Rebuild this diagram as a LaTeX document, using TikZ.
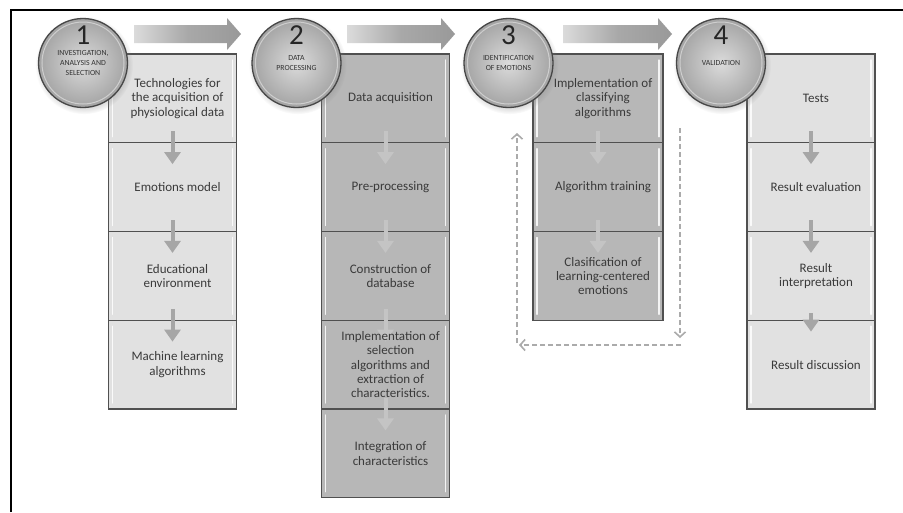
\documentclass[tikz,border=0pt]{standalone}
\usepackage{fontspec}
\setmainfont{Carlito}
\usetikzlibrary{arrows.meta,shadows}

\definecolor{lightcell}{HTML}{E1E1E1}
\definecolor{darkcell}{HTML}{B7B7B7}
\definecolor{cellborder}{HTML}{505050}
\definecolor{txt}{HTML}{3A3A3A}
\definecolor{arrowgray}{HTML}{A6A6A6}
\definecolor{arrowlight}{HTML}{C4C4C4}
\definecolor{loopgray}{HTML}{ABABAB}

\tikzset{
  cell/.style={draw=cellborder, line width=1.2pt, minimum width=128pt,
    minimum height=88.75pt, inner sep=0pt,
    path picture={
      \draw[white, line width=1.4pt, opacity=.85, line cap=round]
        ([xshift=4pt,yshift=-6pt]path picture bounding box.north west) --
        ([xshift=4pt,yshift=6pt]path picture bounding box.south west);
      \draw[white, line width=1.4pt, opacity=.85, line cap=round]
        ([xshift=-4pt,yshift=-6pt]path picture bounding box.north east) --
        ([xshift=-4pt,yshift=6pt]path picture bounding box.south east);
    }},
  lightbox/.style={cell, fill=lightcell},
  darkbox/.style={cell, fill=darkcell},
  celltext/.style={text=txt, font=\fontsize{13}{14.3}\selectfont, align=center, inner sep=0pt},
  stepcircle/.style={circle, minimum size=89pt, inner sep=0pt,
    inner color=black!14, outer color=black!36, draw=black!72, line width=1.3pt,
    circular drop shadow={shadow xshift=1pt, shadow yshift=-2pt, opacity=.3}},
  stepnum/.style={text=black!85, font=\fontsize{29}{29}\selectfont, inner sep=0pt},
  steplabel/.style={text=black!80, font=\fontsize{7.8}{9.6}\selectfont, align=center, inner sep=0pt},
  rowarrow/.style={draw=arrowgray, line width=4pt, -{Triangle[width=16pt,length=12pt]}},
  rowarrowlight/.style={draw=arrowlight, line width=4pt, -{Triangle[width=16pt,length=12pt]}},
  looparrow/.style={draw=loopgray, line width=1.6pt, dash pattern=on 5pt off 3pt,
    -{Straight Barb[length=5pt,width=11pt]}},
  bigarrow/.style={left color=black!14, right color=black!40, middle color=black!34},
}

\begin{document}
\begin{tikzpicture}[x=1pt,y=-1pt]
\useasboundingbox (0,0) rectangle (903,512);
\fill[white] (0,0) rectangle (903,512);
% frame
\draw[line width=2pt, black] (11,512) -- (11,10) -- (903,10);

% big arrows
\shade[bigarrow] (134,25) -- (227,25) -- (227,18) -- (241,34) -- (227,50) -- (227,43) -- (134,43) -- cycle;
\shade[bigarrow] (347,25) -- (441,25) -- (441,18) -- (455,34) -- (441,50) -- (441,43) -- (347,43) -- cycle;
\shade[bigarrow] (563,25) -- (658,25) -- (658,18) -- (672,34) -- (658,50) -- (658,43) -- (563,43) -- cycle;

% column 1
\node[lightbox] (a1) at (172.5,98.4) {};
\node[lightbox] (a2) at (172.5,187.1) {};
\node[lightbox] (a3) at (172.5,275.9) {};
\node[lightbox] (a4) at (172.5,364.6) {};
% column 2
\node[darkbox] (b1) at (385.5,98.4) {};
\node[darkbox] (b2) at (385.5,187.1) {};
\node[darkbox] (b3) at (385.5,275.9) {};
\node[darkbox] (b4) at (385.5,364.6) {};
\node[darkbox] (b5) at (385.5,453.4) {};
% column 3
\node[darkbox, minimum width=130pt] (c1) at (598,98.4) {};
\node[darkbox, minimum width=130pt] (c2) at (598,187.1) {};
\node[darkbox, minimum width=130pt] (c3) at (598,275.9) {};
% column 4
\node[lightbox] (d1) at (811,98.4) {};
\node[lightbox] (d2) at (811,187.1) {};
\node[lightbox] (d3) at (811,275.9) {};
\node[lightbox] (d4) at (811,364.6) {};

% row arrows
\draw[rowarrow] ([yshift=12pt]a1.south) -- ([yshift=-22pt]a2.north);
\draw[rowarrow] ([yshift=12pt]a2.south) -- ([yshift=-22pt]a3.north);
\draw[rowarrow] ([yshift=12pt]a3.south) -- ([yshift=-22pt]a4.north);
\draw[rowarrowlight] ([yshift=12pt]b1.south) -- ([yshift=-22pt]b2.north);
\draw[rowarrowlight] ([yshift=12pt]b2.south) -- ([yshift=-22pt]b3.north);
\draw[rowarrowlight] ([yshift=12pt]b3.south) -- ([yshift=-22pt]b4.north);
\draw[rowarrowlight] ([yshift=12pt]b4.south) -- ([yshift=-22pt]b5.north);
\draw[rowarrowlight] ([yshift=12pt]c1.south) -- ([yshift=-22pt]c2.north);
\draw[rowarrowlight] ([yshift=12pt]c2.south) -- ([yshift=-22pt]c3.north);
\draw[rowarrow] ([yshift=12pt]d1.south) -- ([yshift=-22pt]d2.north);
\draw[rowarrow] ([yshift=12pt]d2.south) -- ([yshift=-22pt]d3.north);
\draw[rowarrow] ([yshift=8pt]d3.south) -- ([yshift=-12pt]d4.north);

% cell texts
\node[celltext] (ta1) at ([xshift=5pt]a1.center) {Technologies for\\the acquisition of\\physiological data};
\node[celltext] (ta2) at ([xshift=5pt]a2.center) {Emotions model};
\node[celltext] (ta3) at ([xshift=5pt]a3.center) {Educational\\environment};
\node[celltext] (ta4) at ([xshift=5pt]a4.center) {Machine learning\\algorithms};
\node[celltext] (tb1) at ([xshift=5pt]b1.center) {Data acquisition};
\node[celltext] (tb2) at ([xshift=5pt]b2.center) {Pre-processing};
\node[celltext] (tb3) at ([xshift=5pt]b3.center) {Construction of\\database};
\node[celltext] (tb4) at ([xshift=5pt]b4.center) {Implementation of\\selection\\algorithms and\\extraction of\\characteristics.};
\node[celltext] (tb5) at ([xshift=5pt]b5.center) {Integration of\\characteristics};
\node[celltext] (tc1) at ([xshift=5pt]c1.center) {Implementation of\\classifying\\algorithms};
\node[celltext] (tc2) at ([xshift=5pt]c2.center) {Algorithm training};
\node[celltext] (tc3) at ([xshift=5pt]c3.center) {Clasification of\\learning-centered\\emotions};
\node[celltext] (td1) at ([xshift=5pt]d1.center) {Tests};
\node[celltext] (td2) at ([xshift=5pt]d2.center) {Result evaluation};
\node[celltext] (td3) at ([xshift=5pt]d3.center) {Result\\interpretation};
\node[celltext] (td4) at ([xshift=5pt]d4.center) {Result discussion};

% dashed loop
\coordinate (lTR) at (680,128);
\coordinate (lBR) at (680,338);
\coordinate (lB) at (681,345);
\coordinate (lBL) at (519,345);
\coordinate (lL) at (517,343);
\coordinate (lTL) at (517,133);
\draw[looparrow] (lTR) -- (lBR);
\draw[looparrow] (lB) -- (lBL);
\draw[looparrow] (lL) -- (lTL);

% step circles
\node[stepcircle] (s1) at (83,63) {};
\node[stepcircle] (s2) at (296.5,63) {};
\node[stepcircle] (s3) at (508.5,63) {};
\node[stepcircle] (s4) at (721,63) {};
\foreach \s in {s1,s2,s3,s4}{
  \draw[white, opacity=.45, line width=1pt] (\s.center) circle (41pt);
}
\node[stepnum] (n1) at (83,35) {1};
\node[stepnum] (n2) at (296.5,35) {2};
\node[stepnum] (n3) at (508.5,35) {3};
\node[stepnum] (n4) at (721,35) {4};
\node[steplabel] (l1) at (83,63) {INVESTIGATION,\\ANALYSIS AND\\SELECTION};
\node[steplabel] (l2) at (296.5,63) {DATA\\PROCESSING};
\node[steplabel] (l3) at (508.5,63) {IDENTIFICATION\\OF EMOTIONS};
\node[steplabel] (l4) at (721,63) {VALIDATION};
\end{tikzpicture}
\end{document}
